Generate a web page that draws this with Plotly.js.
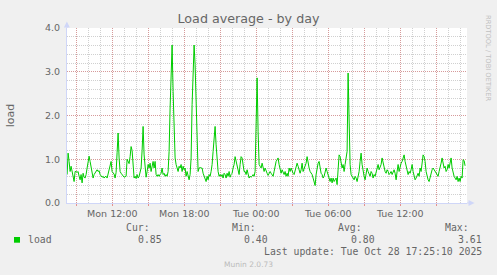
<!DOCTYPE html>
<html><head><meta charset="utf-8">
<script src="https://cdn.plot.ly/plotly-3.0.1.min.js"></script>
<style>html,body{margin:0;padding:0;background:#f0f0f0;}#chart{width:497px;height:275px;}</style>
</head><body><div id="chart"></div>
<script>
const chartTitle = 'Load average - by day';
const yTitle = 'load';
const seriesName = 'load';
const startTime = '2025-10-27 08:14:00';
const stepMs = 300000; // 5-minute samples
const xRange = ['2025-10-27 08:13:30', '2025-10-28 17:33:30'];
const loadValues = [
0.65,1.14,0.95,0.72,0.84,0.72,0.61,0.49,0.72,0.72,
0.70,0.72,0.61,0.53,0.65,0.46,0.68,0.59,0.57,0.65,
0.80,0.98,1.07,0.95,0.80,0.62,0.57,0.65,0.70,0.74,
0.76,0.72,0.74,0.65,0.61,0.59,0.61,0.57,0.60,0.61,
0.57,0.66,0.74,0.80,0.95,0.72,0.70,0.66,0.57,0.70,
1.15,1.60,1.03,0.72,0.68,0.65,0.61,0.59,0.60,0.61,
1.00,0.95,0.90,1.06,1.29,1.20,0.80,0.57,0.61,0.56,
0.65,0.57,0.61,0.70,0.80,1.20,1.75,1.10,0.72,0.59,
0.72,0.88,0.80,0.91,0.72,0.84,0.95,0.80,0.95,0.65,
0.61,0.65,0.61,0.65,0.68,0.80,0.65,0.68,0.61,0.65,
0.61,0.72,1.18,2.17,3.16,3.61,2.55,1.56,1.03,0.88,
0.80,0.72,0.84,0.80,0.88,0.72,0.84,0.76,0.80,0.61,
0.72,0.59,0.53,0.65,1.03,2.25,3.01,3.61,3.16,2.17,
1.18,0.72,0.80,0.81,0.80,0.80,0.68,0.61,0.57,0.49,
0.61,0.53,0.65,0.61,0.72,0.88,1.18,1.56,1.75,1.33,
0.95,0.72,0.61,0.65,0.61,0.65,0.57,0.68,0.65,0.57,
0.68,0.61,0.72,0.59,0.65,0.68,0.80,0.88,1.06,0.95,
0.80,0.72,0.65,0.88,1.06,1.03,0.88,0.72,0.72,0.65,
0.76,0.68,0.57,0.61,0.59,0.61,0.65,0.61,0.72,1.79,
2.86,1.64,0.88,0.84,0.80,0.91,0.80,0.72,0.80,0.72,
0.68,0.63,0.68,0.72,0.68,0.65,0.61,0.72,0.88,0.95,
0.99,1.03,0.88,0.72,0.68,0.76,0.72,0.65,0.72,0.61,
0.68,0.61,0.80,0.72,0.80,0.72,0.68,0.65,0.72,0.80,
0.91,0.84,0.72,0.68,0.76,0.91,0.72,0.80,0.88,0.91,
1.06,0.88,0.80,0.72,0.68,0.65,0.57,0.49,0.40,0.65,
0.80,0.91,0.95,0.80,0.68,0.65,0.57,0.61,0.72,0.80,
0.72,0.65,0.53,0.49,0.57,0.46,0.57,0.49,0.53,0.57,
0.42,0.88,1.10,1.06,0.95,0.80,0.88,0.72,0.88,1.03,
1.18,2.97,1.79,0.88,0.65,0.61,0.57,0.53,0.61,0.57,
0.49,0.61,0.72,0.95,1.14,0.88,0.68,0.61,0.53,0.68,
0.80,0.72,0.68,0.61,0.72,0.68,0.57,0.65,0.61,0.72,
0.80,0.88,0.76,0.84,0.88,1.03,0.91,0.80,0.72,0.68,
0.76,0.72,0.65,0.68,0.72,0.65,0.72,0.76,0.68,0.53,
0.72,0.88,0.72,0.84,0.91,0.95,1.03,1.10,0.95,0.84,
0.72,0.65,0.72,0.68,0.76,0.88,0.72,0.61,0.53,0.57,
0.65,0.68,0.61,0.80,0.72,0.88,1.10,1.06,0.95,0.72,
0.61,0.53,0.49,0.61,0.68,0.76,0.80,0.76,0.72,0.68,
0.65,0.61,0.72,0.80,0.91,1.03,0.88,0.80,0.84,0.72,
0.76,0.88,0.80,0.95,1.03,0.80,0.68,0.61,0.57,0.53,
0.61,0.49,0.57,0.49,0.61,0.57,0.99,0.97,0.85
];
const xTickVals = ['2025-10-27 09:00','2025-10-27 12:00','2025-10-27 15:00','2025-10-27 18:00','2025-10-27 21:00',
  '2025-10-28 00:00','2025-10-28 03:00','2025-10-28 06:00','2025-10-28 09:00','2025-10-28 12:00','2025-10-28 15:00'];
const xTickText = ['','Mon 12:00','','Mon 18:00','','Tue 00:00','','Tue 06:00','','Tue 12:00',''];
const yTickVals = [0,1,2,3,4];
const yTickText = ['0.0','1.0','2.0','3.0','4.0'];
const statLabels = ['Cur:','Min:','Avg:','Max:'];
const statValues = ['0.85','0.40','0.80','3.61'];
const lastUpdate = 'Last update: Tue Oct 28 17:25:10 2025';
const footerText = 'Munin 2.0.73';
const sideText = 'RRDTOOL / TOBI OETIKER';

const W = 497, H = 275, ML = 67, MR = 30, MT = 28, MB = 72;
const PW = W - ML - MR, PH = H - MT - MB;
const px = x => (x - ML) / PW;
const py = y => (H - MB - y) / PH;

const FONT = 'DejaVu Sans, sans-serif';
const MONO = 'DejaVu Sans Mono, monospace';
const TXT = '#666666';
const AXISC = '#CFD6F8';
const GRID = 'rgba(143,143,143,0.42)';
const MGRID = 'rgba(222,79,79,0.42)';
const GREEN = '#00CC00';

const trace = {
  type: 'scatter', mode: 'lines', name: seriesName,
  x0: startTime, dx: stepMs, y: loadValues,
  line: {color: GREEN, width: 1}, hoverinfo: 'skip'
};

const ann = [];
const labelRight = [150.7, 257.3, 363.3, 470];
const valueRight = [162.7, 269.3, 375.7, 482.7];
statLabels.forEach((t, i) => ann.push({text: t, xref:'paper', yref:'paper', x: px(labelRight[i]), y: py(227.3),
  xanchor:'right', yanchor:'middle', showarrow:false, font:{family:MONO, size:9.8, color:TXT}, borderpad:0}));
statValues.forEach((t, i) => ann.push({text: t, xref:'paper', yref:'paper', x: px(valueRight[i]), y: py(239.3),
  xanchor:'right', yanchor:'middle', showarrow:false, font:{family:MONO, size:9.8, color:TXT}, borderpad:0}));
ann.push({text: seriesName, xref:'paper', yref:'paper', x: px(26.7), y: py(239.3), xanchor:'left', yanchor:'middle',
  showarrow:false, font:{family:MONO, size:9.8, color:TXT}, borderpad:0});
ann.push({text: lastUpdate, xref:'paper', yref:'paper', x: px(482.7), y: py(251.7), xanchor:'right', yanchor:'middle',
  showarrow:false, font:{family:MONO, size:9.8, color:TXT}, borderpad:0});
ann.push({text: footerText, xref:'paper', yref:'paper', x: px(248), y: py(264), xanchor:'center', yanchor:'middle',
  showarrow:false, font:{family:FONT, size:7.5, color:'#bbbbbb'}, borderpad:0});
ann.push({text: sideText, xref:'paper', yref:'paper', x: px(487.3), y: py(58.3), xanchor:'center', yanchor:'middle',
  textangle: 90, showarrow:false, font:{family:FONT, size:6.7, color:'#c0c0c0'}, borderpad:0});

const shapes = [
  {type:'rect', xref:'paper', yref:'paper', x0: px(14), x1: px(20), y0: py(242.7), y1: py(237), fillcolor: GREEN, line:{width:0}},
  {type:'line', xref:'paper', yref:'paper', x0: 0, x1: 0, y0: 1, y1: py(24), line:{color:AXISC, width:1}},
  {type:'path', xref:'paper', yref:'paper', path: `M ${px(66.9)},${py(21.5)} L ${px(63.9)},${py(27.5)} L ${px(69.9)},${py(27.5)} Z`, fillcolor: AXISC, line:{width:0}},
  {type:'line', xref:'paper', yref:'paper', x0: 1, x1: px(471), y0: 0, y1: 0, line:{color:AXISC, width:1}},
  {type:'path', xref:'paper', yref:'paper', path: `M ${px(474.5)},${py(203)} L ${px(468.5)},${py(200)} L ${px(468.5)},${py(206)} Z`, fillcolor: AXISC, line:{width:0}}
];

const layout = {
  width: W, height: H,
  margin: {l: ML, r: MR, t: MT, b: MB, pad: 0},
  paper_bgcolor: '#F0F0F0', plot_bgcolor: '#FFFFFF',
  showlegend: false,
  title: {text: chartTitle, x: 0.5, xref: 'container', xanchor: 'center', y: 1 - 19/H, yref: 'container', yanchor: 'middle',
    font: {family: FONT, size: 12.7, color: TXT}},
  xaxis: {
    type: 'date', range: xRange, fixedrange: true,
    tickmode: 'array', tickvals: xTickVals, ticktext: xTickText,
    showgrid: true, gridcolor: MGRID, griddash: '1px,1px', gridwidth: 1,
    minor: {dtick: 3600000, tick0: '2025-10-27 00:00', showgrid: true, gridcolor: GRID, griddash: '1px,1px', ticks: ''},
    showline: true, linecolor: AXISC, linewidth: 1, zeroline: false,
    ticks: 'outside', ticklen: 2, tickcolor: 'rgba(222,79,79,0.6)', tickwidth: 1,
    tickfont: {family: FONT, size: 9.5, color: TXT}
  },
  yaxis: {
    range: [0, 4], fixedrange: true,
    tickmode: 'array', tickvals: yTickVals, ticktext: yTickText,
    showgrid: true, gridcolor: MGRID, griddash: '1px,1px', gridwidth: 1,
    minor: {dtick: 0.2, tick0: 0, showgrid: true, gridcolor: GRID, griddash: '1px,1px', ticks: ''},
    showline: true, linecolor: AXISC, linewidth: 1, zeroline: false,
    ticks: 'outside', ticklen: 4, tickcolor: 'rgba(0,0,0,0)',
    tickfont: {family: FONT, size: 9.5, color: TXT},
    title: {text: yTitle, standoff: 28, font: {family: FONT, size: 11, color: TXT}}
  },
  annotations: ann,
  shapes: shapes
};

Plotly.newPlot('chart', [trace], layout, {staticPlot: true, displayModeBar: false});
</script>
</body></html>
